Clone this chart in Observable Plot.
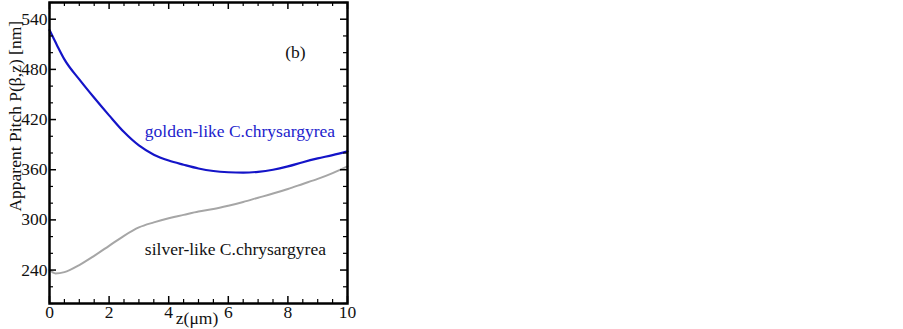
<!DOCTYPE html>
<html><head><meta charset="utf-8">
<script src="https://cdn.jsdelivr.net/npm/d3@7"></script>
<script src="https://cdn.jsdelivr.net/npm/@observablehq/plot@0.6"></script>
<style>body{margin:0;background:#fff} svg text{font-family:'Liberation Serif','Times New Roman',serif !important;}</style>
</head><body><div id="chart"></div>
<script>
const goldenZ = [0, 0.25, 0.5, 1, 1.5, 2, 2.5, 3, 3.5, 4, 4.5, 5, 5.5, 6, 6.5, 7, 7.5, 8, 8.5, 9, 9.5, 10];
const goldenP = [527, 509, 492, 468, 446, 425, 405, 389, 378, 371, 366, 361.5, 358.5, 357, 356.5, 357.5, 360, 364, 369, 373.5, 377.5, 382];
const silverZ = [0, 0.2, 0.5, 1, 1.5, 2, 2.5, 3, 3.5, 4, 4.5, 5, 5.5, 6, 6.5, 7, 7.5, 8, 8.5, 9, 9.5, 10];
const silverP = [240, 236, 237.5, 246, 257, 269, 281, 291, 297, 302, 306, 310, 313, 317, 321.5, 326.5, 331.5, 337, 343, 349, 356, 364];
const xMajor = [0, 2, 4, 6, 8, 10];
const yMajor = [240, 300, 360, 420, 480, 540];
const xMinor = d3.range(0, 10.01, 0.5).filter(v => !xMajor.includes(v));
const yMinor = d3.range(200, 561, 20).filter(v => !yMajor.includes(v));
const goldenLabel = {text: "golden-like C.chrysargyrea", z: 3.2, p: 406};
const silverLabel = {text: "silver-like C.chrysargyrea", z: 3.2, p: 264.5};
const panelLabel = {text: "(b)", z: 8.25, p: 500};
const xTitle = {text: "z(μm)", z: 4.95, p: 182};
const yTitle = {text: "Apparent Pitch P(β,z) [nm]", z: -1.14, p: 424};

const golden = goldenZ.map((z, i) => ({z, p: goldenP[i]}));
const silver = silverZ.map((z, i) => ({z, p: silverP[i]}));

const W = 903, H = 329, mL = 49, mR = 556, mT = 2, mB = 26;
const pw = W - mL - mR, ph = H - mT - mB;
const font = "'Liberation Serif', 'Times New Roman', serif";

const chart = Plot.plot({
  width: W, height: H,
  marginLeft: mL, marginRight: mR, marginTop: mT, marginBottom: mB,
  style: {fontFamily: font, background: "white", overflow: "visible"},
  x: {domain: [0, 10]},
  y: {domain: [200, 560]},
  marks: [
    Plot.line(silver, {x: "z", y: "p", stroke: "#a6a6a6", strokeWidth: 2, curve: "monotone-x"}),
    Plot.line(golden, {x: "z", y: "p", stroke: "#1414c8", strokeWidth: 2.2, curve: "monotone-x"}),
    Plot.ruleX(xMajor, {x: d => d, insetTop: ph - 7, stroke: "black", strokeWidth: 1.5}),
    Plot.ruleX(xMajor, {x: d => d, insetBottom: ph - 7, stroke: "black", strokeWidth: 1.5}),
    Plot.ruleX(xMinor, {x: d => d, insetTop: ph - 4, stroke: "black", strokeWidth: 1.2}),
    Plot.ruleX(xMinor, {x: d => d, insetBottom: ph - 4, stroke: "black", strokeWidth: 1.2}),
    Plot.ruleY(yMajor, {y: d => d, insetRight: pw - 7, stroke: "black", strokeWidth: 1.5}),
    Plot.ruleY(yMajor, {y: d => d, insetLeft: pw - 7, stroke: "black", strokeWidth: 1.5}),
    Plot.ruleY(yMinor, {y: d => d, insetRight: pw - 4, stroke: "black", strokeWidth: 1.2}),
    Plot.ruleY(yMinor, {y: d => d, insetLeft: pw - 4, stroke: "black", strokeWidth: 1.2}),
    Plot.frame({stroke: "black", strokeWidth: 2.5}),
    Plot.axisX({ticks: xMajor, tickSize: 0, tickPadding: 2, fontSize: 17.5, fontFamily: font, label: null, fill: "#111"}),
    Plot.axisY({ticks: yMajor, tickSize: 0, tickPadding: 2, fontSize: 17.5, fontFamily: font, label: null, fill: "#111"}),
    Plot.text([xTitle], {x: "z", y: "p", text: "text", fontSize: 17.5, fontFamily: font, fill: "#111"}),
    Plot.text([yTitle], {x: "z", y: "p", text: "text", rotate: -90, fontSize: 17.5, fontFamily: font, fill: "#111"}),
    Plot.text([goldenLabel], {x: "z", y: "p", text: "text", textAnchor: "start", fill: "#2222cc", fontSize: 17.5, fontFamily: font}),
    Plot.text([silverLabel], {x: "z", y: "p", text: "text", textAnchor: "start", fill: "#111", fontSize: 17.5, fontFamily: font}),
    Plot.text([panelLabel], {x: "z", y: "p", text: "text", textAnchor: "middle", fill: "#111", fontSize: 17.5, fontFamily: font})
  ]
});
document.getElementById("chart").appendChild(chart);
</script>
</body></html>
